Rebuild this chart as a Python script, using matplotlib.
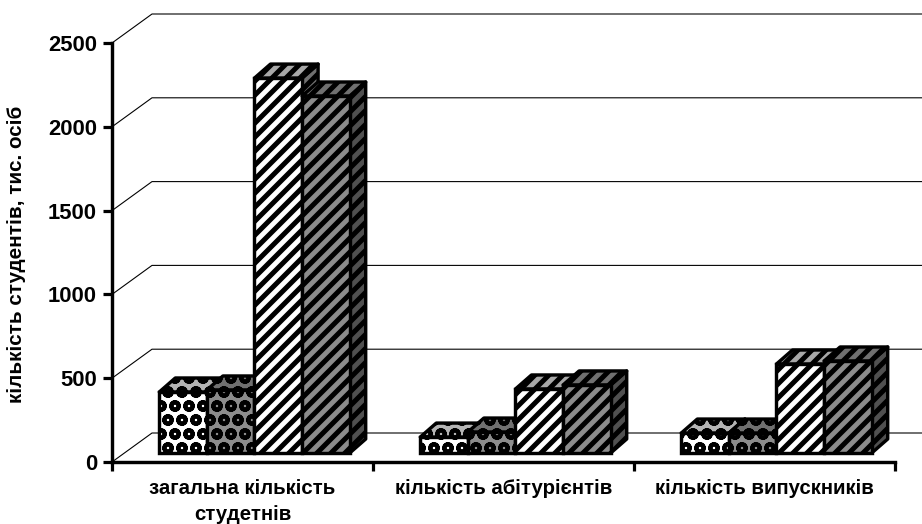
import matplotlib
matplotlib.use("Agg")
import matplotlib.pyplot as plt
from matplotlib.patches import Polygon
from matplotlib.lines import Line2D

categories = ["загальна кількість\nстудетнів", "кількість абітурієнтів", "кількість випускників"]
series_a = [364, 95, 119]
series_b = [376, 125, 119]
series_c = [2237, 382, 531]
series_d = [2130, 406, 549]
y_ticks = [0, 500, 1000, 1500, 2000, 2500]
y_label = "кількість студентів, тис. осіб"

W, H, DPI = 923, 524, 84
PT = 72 / DPI
plt.rcParams["font.family"] = ["Liberation Sans", "DejaVu Sans"]
plt.rcParams["font.weight"] = "bold"

fig = plt.figure(figsize=(W / DPI, H / DPI), dpi=DPI)
L, R, T, B = 112, 895, 43, 462
ax = fig.add_axes([L / W, (H - B) / H, (R - L) / W, (B - T) / H])
ax.set_xlim(0, 3)
ax.set_ylim(0, 2500)
ux = (R - L) / 3
uy = (B - T) / 2500

# back wall
wall_dx, wall_dy = 40 / ux, 29 / uy
xmax_fig = (W - L) / ux
for v in y_ticks:
    ax.add_line(Line2D([0, wall_dx, xmax_fig], [v, v + wall_dy, v + wall_dy],
                       color="black", lw=1.1 * PT, clip_on=False, zorder=1))

# bars
styles = [
    ("white", "#b4b4b4", "#808080", "Oo", 2.0),
    ("#8c8c8c", "#707070", "#505050", "Oo", 2.0),
    ("white", "#a8a8a8", "#707070", "//", 5.0),
    ("#8c8c8c", "#707070", "#505050", "//", 5.0),
]
bar_w = 47.6 / ux
base = 9 / uy
shift = 12 / ux
dep_x, dep_y = 16 / ux, 14 / uy
lw = 3.4 * PT
z = 3


def set_hatch_lw(patch, width):
    if hasattr(patch, "set_hatch_linewidth"):
        patch.set_hatch_linewidth(width * PT)


for s, vals in enumerate([series_a, series_b, series_c, series_d]):
    face, top, side, hatch, hlw = styles[s]
    plt.rcParams["hatch.linewidth"] = hlw * PT
    for c, v in enumerate(vals):
        x0 = c + 0.5 + shift + (s - 2) * bar_w
        x1 = x0 + bar_w
        y1 = base + v
        kw = dict(edgecolor="black", linewidth=lw, hatch=hatch, joinstyle="round", clip_on=False, zorder=z)
        p1 = ax.add_patch(Polygon([(x1, base), (x1 + dep_x, base + dep_y), (x1 + dep_x, y1 + dep_y), (x1, y1)],
                                  facecolor=side, **kw))
        p2 = ax.add_patch(Polygon([(x0, y1), (x0 + dep_x, y1 + dep_y), (x1 + dep_x, y1 + dep_y), (x1, y1)],
                                  facecolor=top, **kw))
        b = ax.bar(x0, v, width=bar_w, bottom=base, align="edge", facecolor=face,
                   edgecolor="black", linewidth=lw, hatch=hatch, zorder=z + 1, clip_on=False)
        for p in (p1, p2, b[0]):
            set_hatch_lw(p, hlw)
    z += 2
plt.rcParams["hatch.linewidth"] = 5.0 * PT

for side_name in ("top", "right"):
    ax.spines[side_name].set_visible(False)
for side_name in ("left", "bottom"):
    ax.spines[side_name].set_linewidth(3.4 * PT)
    ax.spines[side_name].set_zorder(20)

ax.set_yticks(y_ticks)
ax.set_yticklabels([str(v) for v in y_ticks], fontsize=22 * PT, fontweight="bold")
ax.tick_params(axis="y", length=9 * PT, width=3.2 * PT, pad=6 * PT)
ax.set_xticks([0, 1, 2, 3])
ax.set_xticklabels([])
ax.tick_params(axis="x", which="major", length=9 * PT, width=3.2 * PT)
ax.set_xticks([0.5, 1.5, 2.5], minor=True)
ax.set_xticklabels(categories, minor=True, fontsize=20.4 * PT, fontweight="bold", linespacing=1.45)
ax.tick_params(axis="x", which="minor", length=0, pad=17 * PT)

fig.text(17 / W, 1 - 254 / H, y_label, rotation=90, ha="center", va="center",
         fontsize=20.6 * PT, fontweight="bold")

fig.savefig("out.png", dpi=DPI)
